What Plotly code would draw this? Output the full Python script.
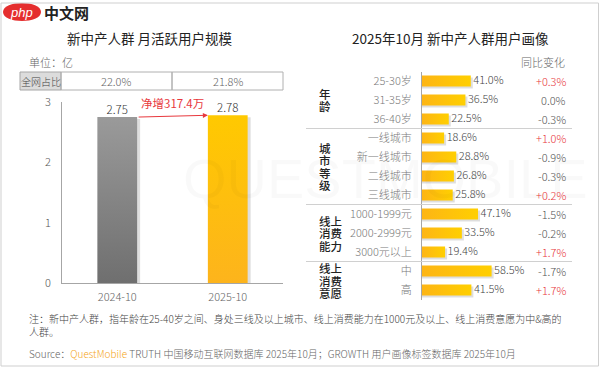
import plotly.graph_objects as go

# ---------------- data ----------------
months = ["2024-10", "2025-10"]
mau = [2.75, 2.78]
mau_labels = ["2.75", "2.78"]
share_labels = ["22.0%", "21.8%"]
net_increase = "净增317.4万"

groups = [["年", "龄"], ["城", "市", "等", "级"], ["线上", "消费", "能力"], ["线上", "消费", "意愿"]]
group_sizes = [3, 4, 3, 2]
segments = ["25-30岁", "31-35岁", "36-40岁",
            "一线城市", "新一线城市", "二线城市", "三线城市",
            "1000-1999元", "2000-2999元", "3000元以上",
            "中", "高"]
seg_values = [41.0, 36.5, 22.5, 18.6, 28.8, 26.8, 25.8, 47.1, 33.5, 19.4, 58.5, 41.5]
yoy_change = ["+0.3%", "0.0%", "-0.3%", "+1.0%", "-0.9%", "-0.3%", "+0.2%",
              "-1.5%", "-0.2%", "+1.7%", "-1.7%", "+1.7%"]

# ---------------- style ----------------
W, H = 600, 368
FONT = "Noto Sans CJK SC, Microsoft YaHei, sans-serif"
LIGHT = 300
left_grad = [("#6f6f6f", "#9a9a9a"), ("#fdb41c", "#ffc900")]  # bottom -> top
right_grad = ("#fdb515", "#ffcf00")  # left -> right
SHADOW = "rgba(0,0,0,0.13)"

# left plot geometry (px)
LX0, LX1, LY0, LY1 = 62, 283, 283, 102
L_XR, L_YR = (-0.5, 1.5), (0, 3)
# right plot geometry (px)
RX0, RX1, RY0, RY1 = 422, 541, 299.5, 71.5
R_XR = (0, 100)
n_seg = len(segments)

lxu = (LX1 - LX0) / (L_XR[1] - L_XR[0])  # px per x unit (left)
lyu = (LY0 - LY1) / (L_YR[1] - L_YR[0])  # px per y unit (left)
rxu = (RX1 - RX0) / (R_XR[1] - R_XR[0])
ryu = (RY0 - RY1) / n_seg


def px(x):
    return x / W


def py(y):
    return 1 - y / H


def note(text, x, y, size, color, xanchor="center", yanchor="middle", xref="paper", yref="paper",
         weight=LIGHT, family=FONT, **kw):
    d = dict(text=text, x=x, y=y, xref=xref, yref=yref, xanchor=xanchor, yanchor=yanchor,
             showarrow=False, font=dict(size=size, color=color, family=family, weight=weight))
    d.update(kw)
    return d


fig = go.Figure()

# ---- left bars (gradient polygons built from the data) ----
bar_w = 0.36
for i, v in enumerate(mau):
    x0, x1 = i - bar_w / 2, i + bar_w / 2
    sx, sy = 3 / lxu, 2 / lyu
    fig.add_trace(go.Scatter(
        x=[x0 + sx, x1 + sx, x1 + sx, x0 + sx, x0 + sx], y=[0, 0, v - sy, v - sy, 0],
        fill="toself", fillcolor=SHADOW, mode="none", hoverinfo="skip",
        xaxis="x", yaxis="y", showlegend=False))
    fig.add_trace(go.Scatter(
        x=[x0, x1, x1, x0, x0], y=[0, 0, v, v, 0],
        fill="toself", mode="none", hoverinfo="skip",
        fillgradient=dict(type="vertical", colorscale=[[0, left_grad[i][0]], [1, left_grad[i][1]]],
                          start=0, stop=v),
        xaxis="x", yaxis="y", showlegend=False))
fig.add_trace(go.Scatter(
    x=[0, 1], y=mau, mode="text", text=mau_labels, textposition="top center",
    textfont=dict(size=11.5, color="#333", family=FONT, weight=LIGHT),
    cliponaxis=False, hoverinfo="skip", xaxis="x", yaxis="y", showlegend=False))

# ---- right bars ----
h = 0.29
for i, v in enumerate(seg_values):
    sx, sy = 2 / rxu, 2 / ryu
    fig.add_trace(go.Scatter(
        x=[0, v + sx, v + sx, 0, 0], y=[i - h + sy, i - h + sy, i + h + sy, i + h + sy, i - h + sy],
        fill="toself", fillcolor=SHADOW, mode="none", hoverinfo="skip",
        xaxis="x2", yaxis="y2", showlegend=False))
    fig.add_trace(go.Scatter(
        x=[0, v, v, 0, 0], y=[i - h, i - h, i + h, i + h, i - h],
        fill="toself", mode="none", hoverinfo="skip",
        fillgradient=dict(type="horizontal", colorscale=[[0, right_grad[0]], [1, right_grad[1]]],
                          start=0, stop=v),
        xaxis="x2", yaxis="y2", showlegend=False))
fig.add_trace(go.Scatter(
    x=[v + 2.5 / rxu for v in seg_values], y=list(range(n_seg)), mode="text",
    text=[f"{v:.1f}%" for v in seg_values], textposition="middle right",
    textfont=dict(size=11, color="#444", family=FONT, weight=LIGHT),
    cliponaxis=False, hoverinfo="skip", xaxis="x2", yaxis="y2", showlegend=False))

fig.update_layout(
    width=W, height=H, margin=dict(l=0, r=0, t=0, b=0, pad=0, autoexpand=False),
    paper_bgcolor="white", plot_bgcolor="rgba(0,0,0,0)",
    font=dict(family=FONT, color="#555"),
    xaxis=dict(domain=[px(LX0), px(LX1)], range=list(L_XR), automargin=False,
               tickvals=[0, 1], ticktext=months,
               tickfont=dict(size=11, color="#666", weight=LIGHT),
               showgrid=False, zeroline=False, showline=True,
               linecolor="#a6a6a6", linewidth=1, ticks="", ticklabelstandoff=4),
    yaxis=dict(domain=[py(LY0), py(LY1)], range=list(L_YR), automargin=False,
               tickvals=[0, 1, 2, 3], tickfont=dict(size=11, color="#555", weight=LIGHT),
               showgrid=False, zeroline=False, showline=True,
               linecolor="#a6a6a6", linewidth=1, ticks="", ticklabelstandoff=8),
    xaxis2=dict(domain=[px(RX0), px(RX1)], range=list(R_XR), automargin=False,
                showticklabels=False, showgrid=False, zeroline=False,
                showline=False, anchor="y2"),
    yaxis2=dict(domain=[py(RY0), py(RY1)], range=[n_seg - 0.5, -0.5], automargin=False,
                tickvals=list(range(n_seg)), ticktext=segments, anchor="x2",
                tickfont=dict(size=11, color="#7a7a7a", weight=LIGHT),
                showgrid=False, zeroline=False, showline=True,
                linecolor="#a6a6a6", linewidth=1, ticks="", ticklabelstandoff=7),
)

anns = []
shapes = []

# watermark (very faint)
anns.append(note("QUESTMOBILE", px(385), py(178), 56, "rgba(0,0,0,0.025)",
                 family="Arial, Liberation Sans", weight=400))

# logo
shapes.append(dict(type="path", xref="paper", yref="paper",
                   path=f"M {px(3)},{py(12)} C {px(3)},{py(0)} {px(41)},{py(0)} {px(41)},{py(12)} "
                        f"C {px(41)},{py(24)} {px(3)},{py(24)} {px(3)},{py(12)} Z",
                   fillcolor="#e52e2e", line=dict(width=0)))
anns.append(note("<i>php</i>", px(21), py(12), 13, "white", family="Arial", weight=400))
anns.append(note("<b>中文网</b>", px(42), py(12), 15, "#222", xanchor="left", weight=700))

# frame
shapes.append(dict(type="rect", xref="paper", yref="paper", x0=px(1), x1=px(598.5),
                   y0=py(366), y1=py(3), line=dict(color="#cfcfcf", width=1)))

# titles
anns.append(note("新中产人群 月活跃用户规模", px(150), py(38), 13.5, "#222", weight=400))
anns.append(note("2025年10月 新中产人群用户画像", px(450), py(38), 13.5, "#222", weight=400))
anns.append(note("单位：亿", px(27), py(62), 11, "#666", xanchor="left"))

# share table
shapes.append(dict(type="rect", xref="paper", yref="paper", x0=px(20), x1=px(61),
                   y0=py(90), y1=py(72), fillcolor="#dcdcdc", line=dict(color="#a6a6a6", width=1)))
for i, x0 in enumerate([61, 172]):
    shapes.append(dict(type="rect", xref="paper", yref="paper", x0=px(x0), x1=px(x0 + 111),
                       y0=py(90), y1=py(72), line=dict(color="#b0b0b0", width=1)))
    anns.append(note(share_labels[i], px(x0 + 55.5), py(81), 11, "#666"))
anns.append(note("全网占比", px(40.5), py(81), 10, "#444"))

# arrow between bars
anns.append(dict(x=1 - bar_w / 2, y=mau[1], ax=0 + bar_w / 2, ay=mau[0],
                 xref="x", yref="y", axref="x", ayref="y", text="", showarrow=True,
                 arrowhead=2, arrowsize=1, arrowwidth=1, arrowcolor="#e8383d"))
anns.append(note(net_increase, 0.5, py(103), 11.5, "#e8383d", xref="x", weight=400))

# right: header, change column, groups
anns.append(note("同比变化", px(567), py(62), 11, "#666", xanchor="right"))
for i, chg in enumerate(yoy_change):
    anns.append(note(chg, px(568), i, 11, "#e8383d" if chg.startswith("+") else "#555",
                     xanchor="right", yref="y2"))

start = 0
LINE = 12.5
for g, n in zip(groups, group_sizes):
    mid = start + (n - 1) / 2
    k = len(g)
    for j, line in enumerate(g):
        anns.append(note(line, px(317), mid, 11.5, "#222", xanchor="left", yref="y2",
                         weight=500, yshift=-(j - (k - 1) / 2) * LINE))
    start += n
    if start < n_seg:
        shapes.append(dict(type="line", xref="paper", yref="y2", x0=px(306), x1=px(572),
                           y0=start - 0.5, y1=start - 0.5, line=dict(color="#d0d0d0", width=1)))

# footer
anns.append(note("注：新中产人群，指年龄在25-40岁之间、身处三线及以上城市、线上消费能力在1000元及以上、线上消费意愿为中&高的<br>人群。",
                 px(27), py(325), 10, "#444", xanchor="left", align="left"))
anns.append(note("Source：<span style='color:#f5a623'>QuestMobile</span> TRUTH 中国移动互联网数据库 2025年10月；GROWTH 用户画像标签数据库 2025年10月",
                 px(27), py(353), 10, "#666", xanchor="left"))

fig.update_layout(annotations=anns, shapes=shapes)
fig.write_html("out.html", config={"displayModeBar": False, "staticPlot": True},
               post_script="document.body.style.margin='0';document.body.style.padding='0';"
                           "document.documentElement.style.overflow='hidden';")
